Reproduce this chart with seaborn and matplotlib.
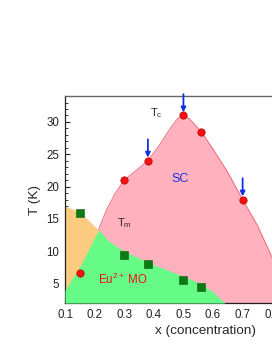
import matplotlib
matplotlib.use("Agg")
import matplotlib.pyplot as plt
import seaborn as sns
import pandas as pd

# Tc (red circles) and Tm (green squares)
tc_x = [0.15, 0.30, 0.38, 0.50, 0.56, 0.70]
tc_T = [6.7, 21.0, 24.0, 31.0, 28.5, 18.0]
tm_x = [0.15, 0.30, 0.38, 0.50, 0.56]
tm_T = [16.0, 9.5, 8.0, 5.5, 4.5]

# arrows mark these compositions
arrow_x = [0.38, 0.50, 0.70]
arrow_T = [24.0, 31.0, 18.0]

# region boundaries
sc_x = [0.213, 0.24, 0.27, 0.30, 0.34, 0.38, 0.42, 0.46, 0.48, 0.50, 0.52,
        0.56, 0.60, 0.65, 0.70, 0.75, 0.80, 0.87]
sc_T = [13.3, 16.4, 19.0, 21.0, 22.5, 24.0, 26.5, 29.3, 30.5, 31.0, 30.5,
        28.5, 25.8, 22.2, 18.0, 14.0, 9.0, 2.0]
mo_x = [0.10, 0.13, 0.15, 0.18, 0.213, 0.25, 0.30, 0.38, 0.44, 0.50, 0.56, 0.60, 0.64]
mo_T = [4.0, 6.2, 7.6, 10.3, 13.3, 11.5, 10.0, 8.3, 7.2, 6.1, 5.0, 3.7, 2.0]
orange_x = [0.10, 0.15, 0.213]
orange_T = [17.0, 16.1, 13.3]

y_bottom = 2.0

sns.set_theme(style="white")
plt.rcParams["font.family"] = ["Liberation Sans", "DejaVu Sans"]
plt.rcParams["mathtext.fontset"] = "custom"
plt.rcParams["mathtext.rm"] = "Liberation Sans"
plt.rcParams["mathtext.it"] = "Liberation Sans"

fig = plt.figure(figsize=(2.72, 3.52), dpi=100)
ax = fig.add_axes([0.239, 0.139, 1.034, 0.588])

pink = "#ffb1bd"
ax.fill_between(sc_x, sc_T, y_bottom, color=pink, lw=0, zorder=1)
ax.plot(sc_x, sc_T, color="#ee6a7c", lw=0.7, zorder=1.5)
ax.fill_between(orange_x + [0.213], orange_T + [13.3], y_bottom,
                color="#fbcb80", lw=0, zorder=2)
ax.fill_between(mo_x, mo_T, y_bottom, color="#66fa87", lw=0, zorder=3)

tc = pd.DataFrame({"x": tc_x, "T": tc_T})
tm = pd.DataFrame({"x": tm_x, "T": tm_T})
sns.scatterplot(data=tm, x="x", y="T", marker="s", s=26, color="#0c7a12",
                edgecolor="#0a5a0a", linewidth=0.4, ax=ax, zorder=5)
sns.scatterplot(data=tc, x="x", y="T", marker="o", s=28, color="#ff1010",
                edgecolor="#b00000", linewidth=0.5, ax=ax, zorder=5)

for x, t in zip(arrow_x, arrow_T):
    ax.annotate("", xy=(x, t + 0.5), xytext=(x, t + 3.3),
                arrowprops=dict(arrowstyle="-|>", color="#1030e0", lw=1.3,
                                mutation_scale=7, shrinkA=0, shrinkB=0),
                zorder=6, annotation_clip=False)

ax.text(0.41, 31.4, r"T$_{\rm c}$", fontsize=8, ha="center", va="center")
ax.text(0.49, 21.2, "SC", fontsize=9, color="#1a2fe8", ha="center", va="center")
ax.text(0.30, 14.3, r"T$_{\rm m}$", fontsize=8, ha="center", va="center")
ax.text(0.295, 5.6, r"Eu$^{2+}$ MO", fontsize=8.3, color="#ee1010",
        ha="center", va="center")

ax.set_xlim(0.1, 1.05)
ax.set_ylim(y_bottom, 34)
ax.set_xticks([0.1, 0.2, 0.3, 0.4, 0.5, 0.6, 0.7, 0.8, 0.9, 1.0])
ax.set_xticklabels(["0.1", "0.2", "0.3", "0.4", "0.5", "0.6", "0.7", "0.8", "0.9", "1.0"])
ax.set_yticks([5, 10, 15, 20, 25, 30])
ax.set_xticks([0.15, 0.25, 0.35, 0.45, 0.55, 0.65, 0.75, 0.85, 0.95], minor=True)
ax.set_yticks(list(range(3, 34)), minor=True)
ax.tick_params(which="both", direction="in", left=True, bottom=True,
               top=False, right=False, labelsize=8.3, colors="#222222")
ax.tick_params(which="major", length=3.5, width=0.8, pad=4)
ax.tick_params(which="minor", length=2, width=0.6)

for side in ["left", "bottom"]:
    ax.spines[side].set_color("#222222")
    ax.spines[side].set_linewidth(0.9)
ax.spines["top"].set_color("#666666")
ax.spines["top"].set_linewidth(1.0)
ax.spines["right"].set_visible(False)

ax.set_xlabel("x (concentration)", fontsize=9.7, labelpad=3.5)
ax.set_ylabel("T (K)", fontsize=9.7, labelpad=4)

fig.savefig("out.png", dpi=100)
